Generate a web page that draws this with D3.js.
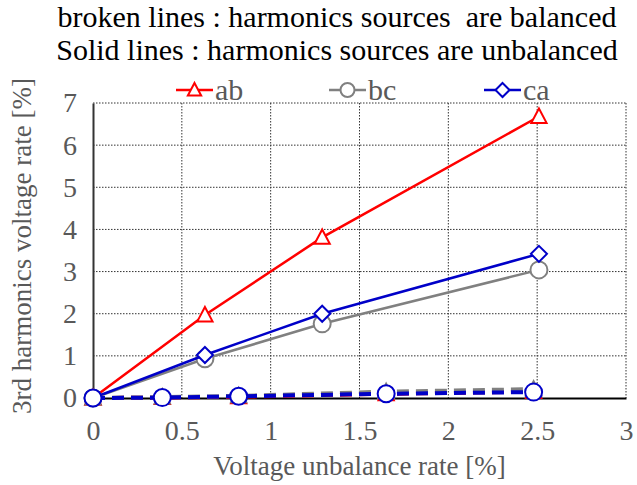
<!DOCTYPE html>
<html>
<head>
<meta charset="utf-8">
<script src="https://cdn.jsdelivr.net/npm/d3@7"></script>
<style>
  body { margin: 0; background: #fff; }
  svg text { font-family: "Liberation Serif", "Times New Roman", serif; }
</style>
</head>
<body>
<svg id="chart" width="637" height="485"></svg>
<script>
var margin = {top: 103, right: 11, bottom: 87, left: 93};

// solid lines: harmonics sources unbalanced
var xSolid = [0, 0.63, 1.29, 2.51];
var abSolid = [0, 1.97, 3.81, 6.68];
var bcSolid = [0, 0.93, 1.76, 3.04];
var caSolid = [0, 1.02, 2.0, 3.42];

// broken lines: harmonics sources balanced
var xBroken = [0, 0.39, 0.82, 1.65, 2.48];
var abBroken = [0, 0.01, 0.03, 0.1, 0.15];
var bcBroken = [0, 0.02, 0.05, 0.15, 0.21];
var caBroken = [0, 0.01, 0.04, 0.1, 0.14];

var xTicks = [0, 0.5, 1, 1.5, 2, 2.5, 3];
var yTicks = [0, 1, 2, 3, 4, 5, 6, 7];
var titleLines = ["broken lines : harmonics sources  are balanced",
                  "Solid lines : harmonics sources are unbalanced"];

var series = [
  {name: "ab", color: "#ff0000", marker: "triangle", xs: xSolid, ys: abSolid, dashed: false},
  {name: "bc", color: "#808080", marker: "circle", xs: xSolid, ys: bcSolid, dashed: false},
  {name: "ca", color: "#0000c8", marker: "diamond", xs: xSolid, ys: caSolid, dashed: false},
  {name: "ab_b", color: "#ff0000", marker: "triangle", xs: xBroken, ys: abBroken, dashed: true},
  {name: "bc_b", color: "#808080", marker: "triangle", xs: xBroken, ys: bcBroken, dashed: true},
  {name: "ca_b", color: "#0000c8", marker: "circle", xs: xBroken, ys: caBroken, dashed: true}
];

var svg = d3.select("#chart"),
  width = +svg.attr("width") - margin.left - margin.right,
  height = +svg.attr("height") - margin.top - margin.bottom;

var x = d3.scaleLinear().domain([0, 3]).range([0, width]);
var y = d3.scaleLinear().domain([0, 7]).range([height, 0]);

var g = svg.append("g").attr("transform", "translate(" + margin.left + "," + margin.top + ")");

// grid
g.selectAll(".vgrid").data(xTicks.slice(1)).enter().append("line")
  .attr("x1", d => x(d)).attr("x2", d => x(d))
  .attr("y1", 0).attr("y2", height)
  .attr("stroke", "#333").attr("stroke-width", 1).attr("stroke-dasharray", "1.5,1.5");
g.selectAll(".hgrid").data(yTicks.slice(1)).enter().append("line")
  .attr("x1", 0).attr("x2", width)
  .attr("y1", d => y(d)).attr("y2", d => y(d))
  .attr("stroke", "#333").attr("stroke-width", 1).attr("stroke-dasharray", "1.5,1.5");

// axes
var fmt = d3.format("~g");
var xAxis = d3.axisBottom(x).tickValues(xTicks).tickSize(0).tickPadding(22).tickFormat(fmt);
var yAxis = d3.axisLeft(y).tickValues(yTicks).tickSize(0).tickPadding(16).tickFormat(fmt);

function styleAxis(a, col) {
  a.attr("font-family", "Liberation Serif").attr("font-size", 28);
  a.select(".domain").attr("stroke", col).attr("stroke-width", 2);
  a.selectAll("text").attr("fill", "#595959");
}

g.append("g").attr("transform", "translate(0," + height + ")").call(xAxis)
  .call(styleAxis, "#000");
g.append("g").call(yAxis).call(styleAxis, "#333");

var lineGen = d3.line().x(d => x(d[0])).y(d => y(d[1]));

function drawMarker(sel, type, color, size) {
  if (type === "circle") {
    sel.append("circle").attr("r", size * 0.5)
      .attr("fill", "#fff").attr("stroke", color).attr("stroke-width", 2);
  } else if (type === "triangle") {
    var h = size * 0.5;
    sel.append("path").attr("d", "M0," + (-h) + "L" + (h * 0.95) + "," + (h * 0.8) + "L" + (-h * 0.95) + "," + (h * 0.8) + "Z")
      .attr("fill", "#fff").attr("stroke", color).attr("stroke-width", 2);
  } else {
    var d = size * 0.5;
    sel.append("path").attr("d", "M0," + (-d) + "L" + d + ",0L0," + d + "L" + (-d) + ",0Z")
      .attr("fill", "#fff").attr("stroke", color).attr("stroke-width", 2);
  }
}

series.forEach(function(s) {
  var pts = s.xs.map((v, i) => [v, s.ys[i]]);
  var p = g.append("path").datum(pts)
    .attr("fill", "none").attr("stroke", s.color)
    .attr("stroke-width", s.dashed ? 4 : 2.5)
    .attr("d", lineGen);
  if (s.dashed) p.attr("stroke-dasharray", "12,7");
  pts.forEach(function(pt) {
    var m = g.append("g").attr("transform", "translate(" + x(pt[0]) + "," + y(pt[1]) + ")");
    drawMarker(m, s.marker, s.color, s.marker === "circle" ? 17 : 16);
  });
});

// legend
var legend = [
  {name: "ab", color: "#ff0000", marker: "triangle", x0: 176},
  {name: "bc", color: "#808080", marker: "circle", x0: 329},
  {name: "ca", color: "#0000c8", marker: "diamond", x0: 484}
];
legend.forEach(function(l) {
  var lg = svg.append("g").attr("transform", "translate(" + l.x0 + ",90)");
  lg.append("line").attr("x1", 0).attr("x2", 37).attr("y1", 0).attr("y2", 0)
    .attr("stroke", l.color).attr("stroke-width", 2.5);
  var m = lg.append("g").attr("transform", "translate(18.5,0)");
  drawMarker(m, l.marker, l.color, 14);
  lg.append("text").attr("x", 39).attr("y", 10).text(l.name)
    .attr("fill", "#595959").style("font-size", "30px");
});

// title lines
svg.selectAll(".title").data(titleLines).enter().append("text")
  .attr("x", 337).attr("y", (d, i) => 27 + i * 33)
  .attr("text-anchor", "middle").attr("fill", "#000")
  .style("white-space", "pre")
  .style("font-size", "30px").text(d => d);

// axis titles
svg.append("text").attr("x", margin.left + x(1.5)).attr("y", 475)
  .attr("text-anchor", "middle").attr("fill", "#595959").style("font-size", "27px")
  .text("Voltage unbalance rate [%]");
svg.append("text").attr("transform", "translate(31,246) rotate(-90)")
  .attr("text-anchor", "middle").attr("fill", "#595959").style("font-size", "27px")
  .text("3rd harmonics voltage rate [%]");
</script>
</body>
</html>
